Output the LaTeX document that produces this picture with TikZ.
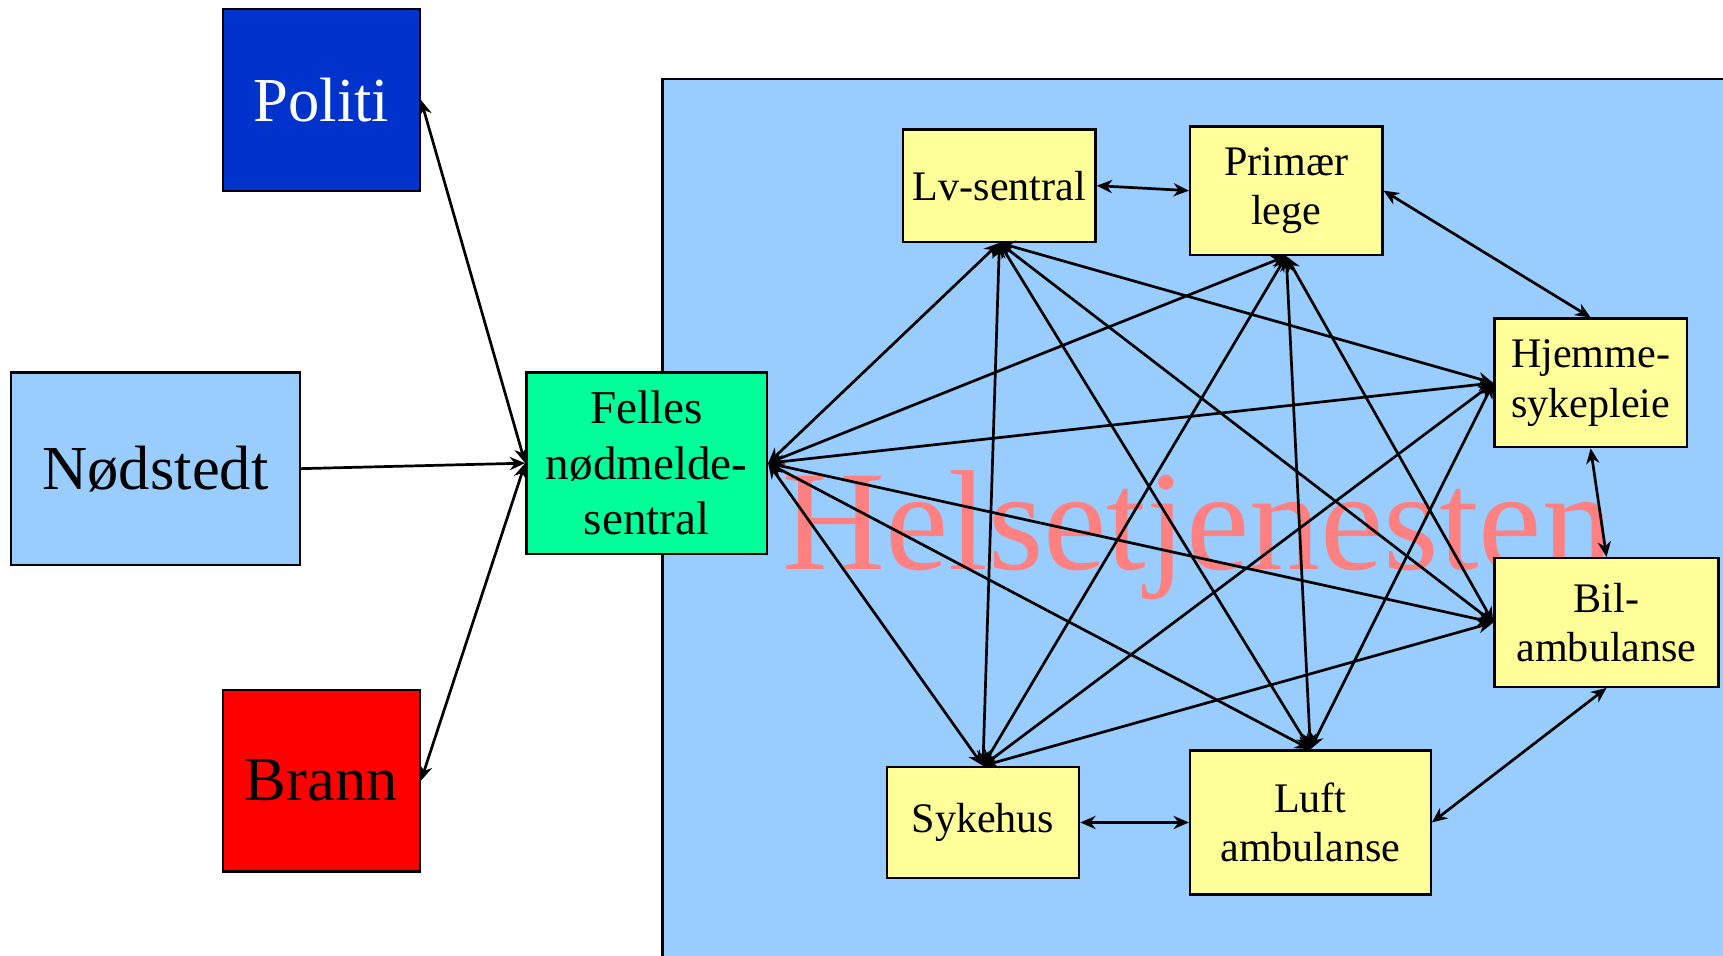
\documentclass[tikz,border=0pt]{standalone}
\usepackage{fontspec}
\setmainfont{Liberation Serif}
\usetikzlibrary{arrows.meta, backgrounds}
\definecolor{politiblue}{HTML}{0033CC}
\definecolor{skyblue}{HTML}{99CCFF}
\definecolor{amkgreen}{HTML}{00FF99}
\definecolor{unityellow}{HTML}{FFFF99}
\definecolor{titlepink}{HTML}{FF8080}
\tikzstyle{box}=[draw, shape=rectangle, inner sep=0pt, align=center, line width=0.6pt]
\tikzstyle{etat}=[box, minimum width=1.79cm, minimum height=1.66cm, font=\fontsize{16.2}{19}\selectfont]
\tikzstyle{unit}=[box, fill=unityellow, minimum width=1.75cm, minimum height=1.17cm, font=\fontsize{10.9}{12.8}\selectfont]
\tikzstyle{link}=[<->, line width=0.7pt]
\tikzset{>={Stealth[length=1.4mm, width=1.2mm]}}

\begin{document}
\begin{tikzpicture}
\useasboundingbox (0,0) rectangle (15.68,8.70);
% the health service area
\draw[fill=skyblue, line width=0.6pt] (6.03,-0.5) rectangle (16.2,7.98);
\node[inner sep=0pt, anchor=base, text=titlepink, font=\fontsize{36.9}{40}\selectfont] (title) at (10.90,3.52) {Helsetjenesten};
% the ``left'' boxes
\node[etat, fill=politiblue, text=white] (politi) at (2.925,7.79) {Politi};
\node[etat, fill=skyblue, minimum width=2.63cm, minimum height=1.75cm] (nod) at (1.415,4.435) {Nødstedt};
\node[etat, fill=red, minimum height=1.65cm] (brann) at (2.925,1.595) {Brann};
% the central box
\node[box, fill=amkgreen, minimum width=2.19cm, minimum height=1.65cm, font=\fontsize{12.2}{14.4}\selectfont] (amk) at (5.885,4.485) {Felles\\nødmelde-\\sentral};
% the ``yellow'' units
\node[unit, minimum height=1.02cm] (lv) at (9.095,7.01) {Lv-sentral};
\node[unit] (prim) at (11.705,6.965) {Primær\\lege};
\node[unit] (hjem) at (14.475,5.215) {Hjemme-\\sykepleie};
\node[unit, minimum width=2.04cm] (bil) at (14.62,3.035) {Bil-\\ambulanse};
\node[unit, minimum height=1.01cm] (syk) at (8.945,1.215) {Sykehus};
\node[unit, minimum width=2.19cm, minimum height=1.31cm] (luft) at (11.925,1.215) {Luft\\ambulanse};
% the edges to the central box
\draw[link] (politi.east) -- (amk.west);
\draw[->, line width=0.7pt] (nod.east) -- (amk.west);
\draw[link] (brann.east) -- (amk.west);
% the edges round the ring
\draw[link] (lv.east) -- (prim.west);
\draw[link] (prim.east) -- (hjem.north);
\draw[link] (hjem.south) -- (bil.north);
\draw[link] (bil.south) -- (luft.east);
\draw[link] (syk.east) -- (luft.west);
% the edges across the ring
\draw[link] (amk.east) -- (lv.south);
\draw[link] (amk.east) -- (prim.south);
\draw[link] (amk.east) -- (hjem.west);
\draw[link] (amk.east) -- (bil.west);
\draw[link] (amk.east) -- (syk.north);
\draw[link] (amk.east) -- (luft.north);
\draw[link] (lv.south) -- (hjem.west);
\draw[link] (lv.south) -- (bil.west);
\draw[link] (lv.south) -- (syk.north);
\draw[link] (lv.south) -- (luft.north);
\draw[link] (prim.south) -- (bil.west);
\draw[link] (prim.south) -- (syk.north);
\draw[link] (prim.south) -- (luft.north);
\draw[link] (hjem.west) -- (syk.north);
\draw[link] (hjem.west) -- (luft.north);
\draw[link] (bil.west) -- (syk.north);
\end{tikzpicture}
\end{document}
